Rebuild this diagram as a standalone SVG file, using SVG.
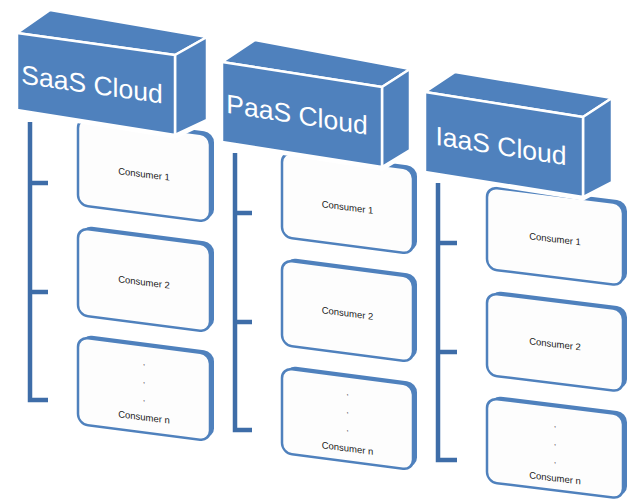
<svg xmlns="http://www.w3.org/2000/svg" width="632" height="503" viewBox="0 0 632 503">
<style>
.face{fill:#4F81BD;stroke:#fff;stroke-width:2.5;stroke-linejoin:round}
.halo{fill:#fff;stroke:#fff;stroke-width:7;stroke-linejoin:round}
.hdr{font-family:"Liberation Sans",Arial,sans-serif;font-size:26.5px;fill:#fff;text-anchor:middle}
.back{fill:#4F81BD}
.card{fill:#FDFDFD;stroke:#4F81BD;stroke-width:2.5}
.ct{font-family:"Liberation Sans",Arial,sans-serif;font-size:9.5px;fill:#222;text-anchor:middle}
.br{fill:none;stroke:#3E6DA8;stroke-width:4.5;stroke-linejoin:miter}
</style>
<rect width="632" height="503" fill="#fff"/>
<g id="connectors">
<path class="br" d="M30,122 V400 H48 M30,183 H48 M30,292 H48"/>
<path class="br" d="M235,153 V430 H252 M235,213 H252 M235,322 H252"/>
<path class="br" d="M438,183 V460 H457 M438,243 H457 M438,352 H457"/>
</g>
<!-- Column 1 consumers -->
<g id="saas-consumer-1" transform="translate(78,118) skewY(7.3)">
<rect class="back" x="4" y="-3" width="132" height="87" rx="10"/>
<rect class="card" x="0" y="0" width="132" height="87" rx="10"/>
<text class="ct" x="66" y="51">Consumer 1</text>
</g>
<g id="saas-consumer-2" transform="translate(78,228) skewY(7.3)">
<rect class="back" x="4" y="-3" width="132" height="87" rx="10"/>
<rect class="card" x="0" y="0" width="132" height="87" rx="10"/>
<text class="ct" x="66" y="49">Consumer 2</text>
</g>
<g id="saas-consumer-n" transform="translate(78,337) skewY(7.3)">
<rect class="back" x="4" y="-3" width="132" height="87" rx="10"/>
<rect class="card" x="0" y="0" width="132" height="87" rx="10"/>
<text class="ct" x="66" y="20">.</text>
<text class="ct" x="66" y="38">.</text>
<text class="ct" x="66" y="56">.</text>
<text class="ct" x="66" y="75">Consumer n</text>
</g>
<!-- Column 2 consumers -->
<g id="paas-consumer-1" transform="translate(282,152) skewY(7.4)">
<rect class="back" x="4" y="-3" width="131" height="85" rx="10"/>
<rect class="card" x="0" y="0" width="131" height="85" rx="10"/>
<text class="ct" x="65.5" y="50">Consumer 1</text>
</g>
<g id="paas-consumer-2" transform="translate(282,260) skewY(7.4)">
<rect class="back" x="4" y="-3" width="131" height="85" rx="10"/>
<rect class="card" x="0" y="0" width="131" height="85" rx="10"/>
<text class="ct" x="65.5" y="48">Consumer 2</text>
</g>
<g id="paas-consumer-n" transform="translate(282,368) skewY(7.4)">
<rect class="back" x="4" y="-3" width="131" height="85" rx="10"/>
<rect class="card" x="0" y="0" width="131" height="85" rx="10"/>
<text class="ct" x="65.5" y="19">.</text>
<text class="ct" x="65.5" y="37">.</text>
<text class="ct" x="65.5" y="55">.</text>
<text class="ct" x="65.5" y="75">Consumer n</text>
</g>
<!-- Column 3 consumers -->
<g id="iaas-consumer-1" transform="translate(487,187) skewY(7)">
<rect class="back" x="4" y="-3" width="136" height="82" rx="10"/>
<rect class="card" x="0" y="0" width="136" height="82" rx="10"/>
<text class="ct" x="68" y="47">Consumer 1</text>
</g>
<g id="iaas-consumer-2" transform="translate(487,293) skewY(7)">
<rect class="back" x="4" y="-3" width="136" height="82" rx="10"/>
<rect class="card" x="0" y="0" width="136" height="82" rx="10"/>
<text class="ct" x="68" y="46">Consumer 2</text>
</g>
<g id="iaas-consumer-n" transform="translate(487,398) skewY(7)">
<rect class="back" x="4" y="-3" width="136" height="84" rx="10"/>
<rect class="card" x="0" y="0" width="136" height="84" rx="10"/>
<text class="ct" x="68" y="21">.</text>
<text class="ct" x="68" y="39">.</text>
<text class="ct" x="68" y="57">.</text>
<text class="ct" x="68" y="75">Consumer n</text>
</g>
<!-- Headers -->
<g id="saas-cloud">
<polygon class="halo" points="17,33 50,10 207,37 207,120 175,135 17,110"/>
<polygon class="face" points="17,33 50,10 207,37 175,55"/>
<polygon class="face" points="175,55 207,37 207,120 175,135"/>
<polygon class="face" points="17,33 175,55 175,135 17,110"/>
<text class="hdr" transform="translate(17,33) skewY(8)" x="75" y="50">SaaS Cloud</text>
</g>
<g id="paas-cloud">
<polygon class="halo" points="222,62 255,40 410,69 410,150 382,167 222,142"/>
<polygon class="face" points="222,62 255,40 410,69 382,87"/>
<polygon class="face" points="382,87 410,69 410,150 382,167"/>
<polygon class="face" points="222,62 382,87 382,167 222,142"/>
<text class="hdr" transform="translate(222,62) skewY(8.9)" x="75" y="50">PaaS Cloud</text>
</g>
<g id="iaas-cloud">
<polygon class="halo" points="425,92 455,72 612,98 612,182 583,197 425,172"/>
<polygon class="face" points="425,92 455,72 612,98 583,117"/>
<polygon class="face" points="583,117 612,98 612,182 583,197"/>
<polygon class="face" points="425,92 583,117 583,197 425,172"/>
<text class="hdr" transform="translate(425,92) skewY(9)" x="76" y="51">IaaS Cloud</text>
</g>
</svg>
